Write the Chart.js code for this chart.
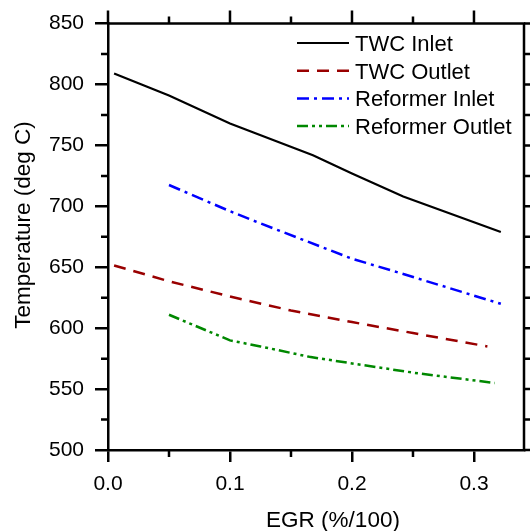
<!DOCTYPE html>
<html>
<head>
<meta charset="utf-8">
<script src="https://cdn.jsdelivr.net/npm/chart.js@4.4.0/dist/chart.umd.min.js"></script>
<style>
  body { margin: 0; background: #fff; }
</style>
</head>
<body>
<canvas id="myChart" width="530" height="531"></canvas>
<script>
// values
const twcInletX = [0.005, 0.05, 0.1, 0.168, 0.2, 0.242, 0.322];
const twcInletY = [809, 791, 768, 742, 727, 708, 679];
const twcOutletX = [0.005, 0.05, 0.1, 0.15, 0.2, 0.25, 0.311];
const twcOutletY = [651.5, 638.5, 626, 614.5, 605, 596, 585];
const refInletX = [0.05, 0.1, 0.125, 0.2, 0.237, 0.322];
const refInletY = [717.5, 696, 686, 657, 646, 620];
const refOutletX = [0.05, 0.1, 0.125, 0.165, 0.207, 0.25, 0.317];
const refOutletY = [611, 590, 585, 576.5, 570, 563.5, 555];

const xTicks = [0, 0.1, 0.2, 0.3];
const xMinor = [0.05, 0.15, 0.25];
const yTicks = [500, 550, 600, 650, 700, 750, 800, 850];
const yMinor = [525, 575, 625, 675, 725, 775, 825];

function pts(xs, ys) {
    return xs.map((x, i) => ({ x: x, y: ys[i] }))
}

const FONT = 'Liberation Sans, Arial, sans-serif'

////// frame, extra ticks, legend and titles
const extras = {
    id: 'extras',
    afterDraw(chart) {
        const ctx = chart.ctx
        const a = chart.chartArea
        const xs = chart.scales.x
        const ys = chart.scales.y
        ctx.save()
        ctx.strokeStyle = '#000'
        ctx.lineWidth = 2.5
        // top and right frame
        ctx.beginPath()
        ctx.moveTo(a.left, a.top); ctx.lineTo(a.right, a.top); ctx.lineTo(a.right, a.bottom)
        ctx.stroke()
        ctx.beginPath()
        xTicks.forEach(v => {
            const p = xs.getPixelForValue(v)
            ctx.moveTo(p, a.top); ctx.lineTo(p, a.top - 13)
        })
        xMinor.forEach(v => {
            const p = xs.getPixelForValue(v)
            ctx.moveTo(p, a.top); ctx.lineTo(p, a.top - 7)
            ctx.moveTo(p, a.bottom); ctx.lineTo(p, a.bottom + 7)
        })
        yTicks.forEach(v => {
            const p = ys.getPixelForValue(v)
            ctx.moveTo(a.right, p); ctx.lineTo(a.right + 13, p)
        })
        yMinor.forEach(v => {
            const p = ys.getPixelForValue(v)
            ctx.moveTo(a.right, p); ctx.lineTo(a.right + 7, p)
            ctx.moveTo(a.left, p); ctx.lineTo(a.left - 7, p)
        })
        ctx.stroke()

        // legend
        ctx.font = '22px ' + FONT
        ctx.textBaseline = 'alphabetic'
        ctx.textAlign = 'left'
        chart.data.datasets.forEach((ds, i) => {
            const y = 43 + i * 27.7
            ctx.strokeStyle = ds.borderColor
            ctx.lineWidth = ds.borderWidth
            ctx.setLineDash(ds.borderDash || [])
            ctx.beginPath()
            ctx.moveTo(297, y); ctx.lineTo(349, y)
            ctx.stroke()
            ctx.setLineDash([])
            ctx.fillStyle = '#000'
            ctx.fillText(ds.label, 355, y + 8)
        })

        // axis titles
        ctx.font = '22.5px ' + FONT
        ctx.textAlign = 'center'
        ctx.fillText('EGR (%/100)', 333, 527)
        ctx.translate(30, 225)
        ctx.rotate(-Math.PI / 2)
        ctx.fillText('Temperature (deg C)', 0, 0)
        ctx.restore()
    }
}

const ctx = document.getElementById('myChart');
const myChart = new Chart(ctx, {
    type: 'scatter',
    data: {
        datasets: [{
            label: 'TWC Inlet',
            data: pts(twcInletX, twcInletY),
            borderColor: '#000000',
            borderWidth: 2.2,
        },
        {
            label: 'TWC Outlet',
            data: pts(twcOutletX, twcOutletY),
            borderColor: '#990000',
            borderWidth: 2.5,
            borderDash: [12, 8]
        },
        {
            label: 'Reformer Inlet',
            data: pts(refInletX, refInletY),
            borderColor: '#0000ff',
            borderWidth: 2.5,
            borderDash: [12, 5, 3, 5]
        },
        {
            label: 'Reformer Outlet',
            data: pts(refOutletX, refOutletY),
            borderColor: '#008800',
            borderWidth: 2.5,
            borderDash: [11, 4, 3, 4, 3, 4]
        }]
    },
    options: {
        responsive: false,
        animation: false,
        showLine: true,
        elements: { point: { radius: 0, hoverRadius: 0 }, line: { tension: 0 } },
        layout: { padding: { top: 22, right: 6, left: 0, bottom: 0 } },
        plugins: { legend: { display: false }, tooltip: { enabled: false } },
        scales: {
            x: {
                type: 'linear',
                min: 0,
                max: 0.341,
                afterBuildTicks: s => { s.ticks = xTicks.map(v => ({ value: v })) },
                afterFit: s => { s.height = 81 },
                grid: { drawOnChartArea: false, color: '#000', lineWidth: 2.5, tickLength: 12 },
                border: { color: '#000', width: 2.5 },
                ticks: {
                    color: '#000',
                    font: { family: FONT, size: 21 },
                    padding: 10,
                    maxRotation: 0,
                    callback: v => v.toFixed(1)
                }
            },
            y: {
                min: 500,
                max: 850,
                afterBuildTicks: s => { s.ticks = yTicks.map(v => ({ value: v })) },
                afterFit: s => { s.width = 108 },
                grid: { drawOnChartArea: false, color: '#000', lineWidth: 2.5, tickLength: 13 },
                border: { color: '#000', width: 2.5 },
                ticks: {
                    color: '#000',
                    font: { family: FONT, size: 21 },
                    padding: 11
                }
            }
        }
    },
    plugins: [extras]
});
</script>
</body>
</html>
